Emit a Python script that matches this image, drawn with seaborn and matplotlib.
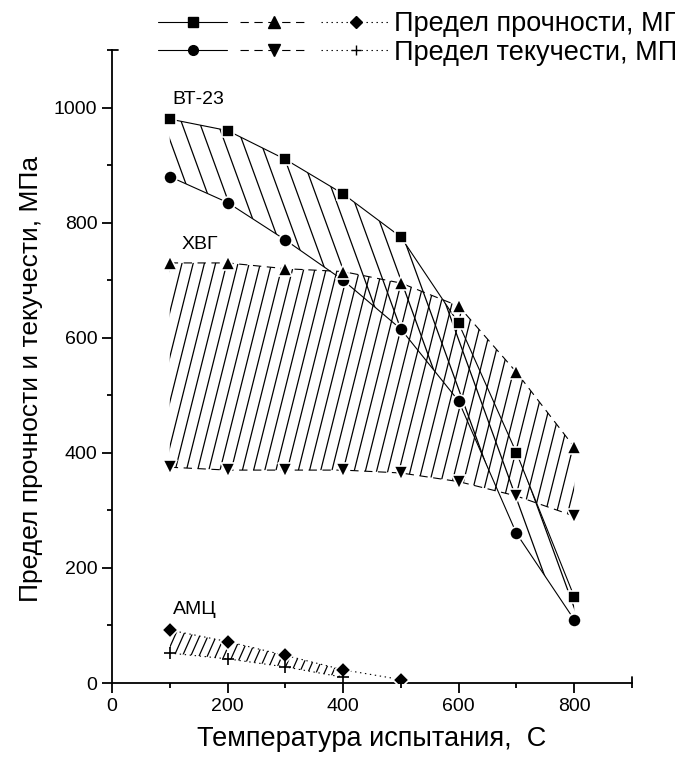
import numpy as np
import pandas as pd
import matplotlib
matplotlib.use("Agg")
import matplotlib.pyplot as plt
import seaborn as sns
from matplotlib.collections import LineCollection
from matplotlib.legend_handler import HandlerTuple
from matplotlib.ticker import MultipleLocator

# Temperatures of the tests, C
temps = [100, 200, 300, 400, 500, 600, 700, 800]
temps_amc = [100, 200, 300, 400, 500]
temps_amc_yield = [100, 200, 300, 400]

# ВТ-23 titanium alloy
vt23_strength = [980, 960, 910, 850, 775, 625, 400, 150]
vt23_yield = [880, 835, 770, 700, 615, 490, 260, 110]
# ХВГ steel
hvg_strength = [730, 730, 720, 715, 695, 655, 540, 410]
hvg_yield = [375, 370, 370, 370, 365, 350, 325, 290]
# АМЦ aluminium alloy
amc_strength = [92, 72, 48, 23, 6]
amc_yield = [52, 42, 28, 10]

labels = ["ВТ-23", "ХВГ", "АМЦ"]
legend_labels = ["Предел прочности, МПа", "Предел текучести, МПа"]
x_title = "Температура испытания,  С"
y_title = "Предел прочности и текучести, МПа"

sns.set_style("ticks")
plt.rcParams["font.family"] = ["Liberation Sans", "DejaVu Sans"]
plt.rcParams.update({
    "lines.scale_dashes": False,
    "text.color": "black",
    "axes.labelcolor": "black",
    "axes.edgecolor": "black",
    "xtick.color": "black",
    "ytick.color": "black",
})

DPI = 100
fig = plt.figure(figsize=(6.75, 7.6), dpi=DPI)
ax = fig.add_axes([0.1659, 0.1013, 0.7704, 0.8329])
ax.set_xlim(0, 900)
ax.set_ylim(0, 1100)

DASH = (0, (6, 4))
DOT = (0, (1, 2.6))


def series(x, y, marker, ls, ms):
    df = pd.DataFrame({"T": x, "v": y})
    n0 = len(ax.lines)
    sns.lineplot(data=df, x="T", y="v", ax=ax, color="black", lw=0.8,
                 marker=marker, markersize=ms, markeredgecolor="white",
                 markeredgewidth=1.2, markerfacecolor="black", zorder=4)
    line = ax.lines[n0]
    line.set_linestyle(ls)
    return line


l_sq = series(temps, vt23_strength, "s", "-", 9)
l_ci = series(temps, vt23_yield, "o", "-", 9.5)
l_up = series(temps, hvg_strength, "^", DASH, 10)
l_dn = series(temps, hvg_yield, "v", DASH, 10)
l_di = series(temps_amc, amc_strength, "D", DOT, 8.5)
l_pl = series(temps_amc_yield, amc_yield, "+", DOT, 9)
l_pl.set_markeredgecolor("black")
l_pl.set_markeredgewidth(1.2)


def hatch(x, lo, hi, angle, step_x, lw=0.9):
    """Fill the band between lo and hi with slanted lines."""
    band = ax.fill_between(x, lo, hi, facecolor="none", edgecolor="none", lw=0)
    pos = ax.get_position()
    W = fig.get_figwidth() * DPI * pos.width
    H = fig.get_figheight() * DPI * pos.height
    run = H / np.tan(np.radians(angle))
    x0s = np.arange(-abs(run) - step_x, W + abs(run) + step_x, step_x)
    segs = [[(x0 / W, 0.0), ((x0 + run) / W, 1.0)] for x0 in x0s]
    lc = LineCollection(segs, colors="black", linewidths=lw,
                        transform=ax.transAxes, zorder=2)
    ax.add_collection(lc)
    lc.set_clip_path(band.get_paths()[0], ax.transData)


hatch(temps, vt23_yield, vt23_strength, 110, 18.0)
hatch(temps, hvg_yield, hvg_strength, 76, 11.2)
hatch(temps_amc_yield, amc_yield, amc_strength[:len(amc_yield)], 66, 8.3)

ax.text(105, 1014, labels[0], fontsize=14, va="center", ha="left")
ax.text(121, 762, labels[1], fontsize=14, va="center", ha="left")
ax.text(105, 127, labels[2], fontsize=14, va="center", ha="left")

# axes styling
sns.despine(ax=ax)
for s in ("left", "bottom"):
    ax.spines[s].set_linewidth(1.3)
ax.xaxis.set_minor_locator(MultipleLocator(100))
ax.yaxis.set_minor_locator(MultipleLocator(100))
ax.set_xticks([0, 200, 400, 600, 800])
ax.set_yticks([0, 200, 400, 600, 800, 1000])
ax.tick_params(which="major", direction="out", length=7, width=1.3,
               labelsize=14, pad=3.5)
ax.tick_params(which="minor", direction="out", length=3.5, width=1.3)
ax.set_xlabel(x_title, fontsize=19.5, labelpad=8)
ax.set_ylabel(y_title, fontsize=19, labelpad=8)
ax.yaxis.set_label_coords(-0.133, 0.48)

# short end caps on the axis lines
ax.plot([0, 0.012], [1, 1], transform=ax.transAxes, color="black", lw=1.3,
        clip_on=False)
ax.plot([1, 1], [0, 0.01], transform=ax.transAxes, color="black", lw=1.3,
        clip_on=False)


# legend with three samples per row
def proxy(marker, ls, ms, mec="black"):
    return plt.Line2D([], [], color="black", lw=0.8, ls=ls, marker=marker,
                      markersize=ms, markerfacecolor="black",
                      markeredgecolor=mec, markeredgewidth=1.0)


row1 = (proxy("s", "-", 7), proxy("^", DASH, 8), proxy("D", DOT, 6.5))
row2 = (proxy("o", "-", 7), proxy("v", DASH, 8), proxy("+", DOT, 7))
fig.legend([row1, row2], legend_labels,
           handler_map={tuple: HandlerTuple(ndivide=None, pad=0.45)},
           loc="upper left", bbox_to_anchor=(0.234, 0.985), frameon=False,
           fontsize=19.5, handlelength=8.6, handletextpad=0.1,
           labelspacing=0.08, borderpad=0, borderaxespad=0, numpoints=1)

fig.savefig("out.png", dpi=DPI)
